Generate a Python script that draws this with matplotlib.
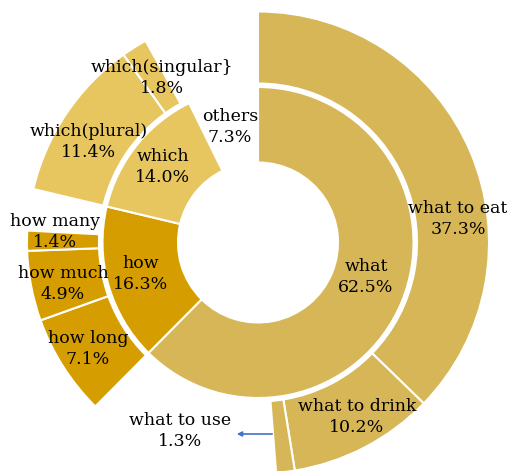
import numpy as np
import matplotlib.pyplot as plt

# inner ring
groups = ['what', 'how', 'which', 'others']
group_pct = [62.5, 16.3, 14.0, 7.3]

# outer ring, by parent group
what_sub = ['what to eat', 'what to drink', 'what to use']
what_pct = [37.3, 10.2, 1.3]
how_sub = ['how long', 'how much', 'how many']
how_pct = [7.1, 4.9, 1.4]
which_sub = ['which(plural)', 'which(singular}']
which_pct = [11.4, 1.8]

c_what = '#D6B656'
c_how = '#D69D00'
c_which = '#E7C65F'

W, H = 509, 471
fig = plt.figure(figsize=(W / 100, H / 100), dpi=100)
ax = fig.add_axes([0, 0, 1, 1])

cx, cy = 258, H - 242.5
r_in_out, r_in_in = 155.5, 80
r_out_out, r_out_in = 231, 159

ax.pie(group_pct, radius=r_in_out, center=(cx, cy), startangle=90, counterclock=False,
       colors=[c_what, c_how, c_which, 'none'],
       wedgeprops=dict(width=r_in_out - r_in_in, edgecolor='white', linewidth=1.5))

# outer values with blank remainders so children stay under their parent
outer_vals = (what_pct + [group_pct[0] - sum(what_pct)]
              + how_pct + [group_pct[1] - sum(how_pct)]
              + which_pct + [group_pct[2] - sum(which_pct)]
              + [group_pct[3]])
outer_cols = ([c_what] * 3 + ['none'] + [c_how] * 3 + ['none']
              + [c_which] * 2 + ['none', 'none'])
wedges, _ = ax.pie(outer_vals, radius=r_out_out, center=(cx, cy), startangle=90,
                   counterclock=False, colors=outer_cols,
                   wedgeprops=dict(width=r_out_out - r_out_in, edgecolor='white', linewidth=1.5))
for w, c in zip(wedges, outer_cols):
    if c == 'none':
        w.set_edgecolor('none')

ax.set_xlim(0, W)
ax.set_ylim(0, H)
ax.axis('off')

fnt = dict(family='DejaVu Serif', fontsize=12.5, color='black', ha='center', va='center',
           linespacing=1.3)

labels = [
    ('which(singular}\n1.8%', 162, 78),
    ('others\n7.3%', 230, 127),
    ('which(plural)\n11.4%', 89, 142),
    ('which\n14.0%', 163, 167),
    ('how many\n1.4%', 55, 232),
    ('how much\n4.9%', 63, 284),
    ('how\n16.3%', 141, 274),
    ('how long\n7.1%', 88, 349),
    ('what\n62.5%', 366, 277),
    ('what to eat\n37.3%', 458, 219),
    ('what to drink\n10.2%', 357, 417),
    ('what to use\n1.3%', 180, 431),
]
for txt, x, y in labels:
    ax.text(x, H - y, txt, **fnt)

ax.annotate('', xy=(234, H - 434), xytext=(275, H - 434),
            arrowprops=dict(arrowstyle='-|>', color='#4472C4', lw=1.2, mutation_scale=7))

fig.savefig('out.png', dpi=100)
